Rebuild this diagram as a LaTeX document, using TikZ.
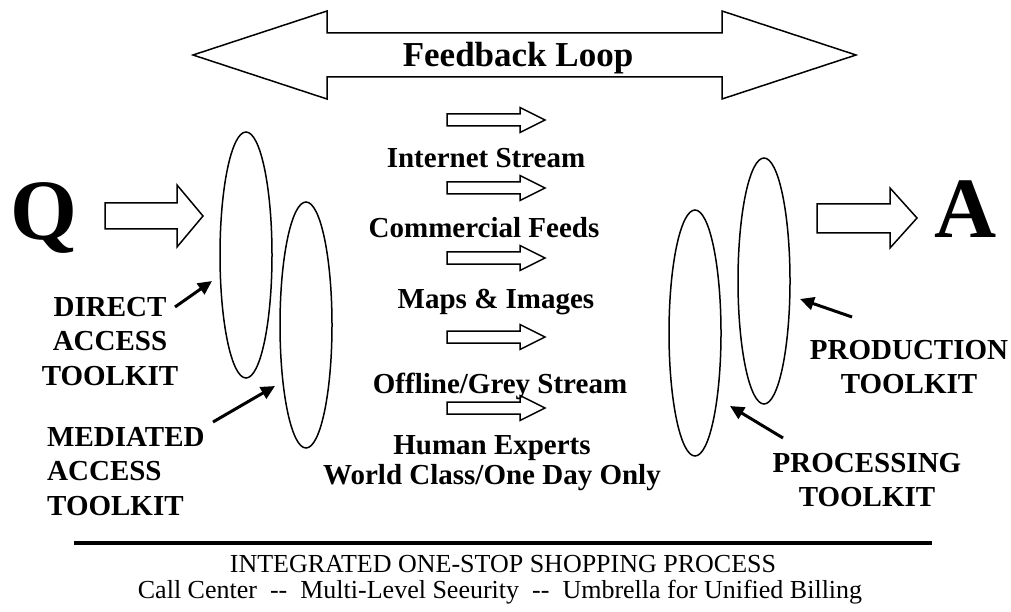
\documentclass[tikz,border=0pt]{standalone}
\usepackage{fontspec}
\setmainfont{Liberation Serif}
\usetikzlibrary{arrows.meta,shapes.geometric}

\tikzset{
    lbl/.style={font=\bfseries\fontsize{29}{34.5}\selectfont, align=center, inner sep=0pt},
    strm/.style={font=\bfseries\fontsize{29}{29}\selectfont, inner sep=0pt, anchor=base},
    big/.style={font=\bfseries\fontsize{86}{86}\selectfont, inner sep=0pt, anchor=base},
    plain/.style={font=\fontsize{26}{26}\selectfont, inner sep=0pt, anchor=base},
    ring/.style={draw, ellipse, line width=1.5pt, minimum width=52pt, minimum height=246pt, inner sep=0pt},
    pointer/.style={line width=3pt, -{Triangle[length=14pt,width=13pt]}},
    block/.style={draw, line width=1.5pt, line join=miter},
}

\begin{document}
\begin{tikzpicture}[x=1pt,y=-1pt]
    \useasboundingbox (0,0) rectangle (1011,612);

    % feedback loop
    \draw[block] (193,55) -- (327,11) -- (327,33) -- (722,33) -- (722,11) -- (856,55)
        -- (722,99) -- (722,77) -- (327,77) -- (327,99) -- cycle;
    \node[strm, font=\bfseries\fontsize{35}{35}\selectfont] (loop) at (518,67) {Feedback Loop};

    % question and answer
    \node[big] (q) at (44,240) {Q};
    \node[big] (a) at (966,238) {A};
    \draw[block] (105,203) -- (177,203) -- (177,185) -- (203,216) -- (177,247) -- (177,229) -- (105,229) -- cycle;
    \draw[block] (817,204) -- (890,204) -- (890,188) -- (917,218) -- (890,248) -- (890,233) -- (817,233) -- cycle;

    % toolkits
    \node[ring] (direct) at (246,255) {};
    \node[ring] (mediated) at (306,325) {};
    \node[ring] (processing) at (695,333) {};
    \node[ring] (production) at (764,281) {};

    % streams
    \foreach \y in {120,188,258,337,408}
        \draw[block] (447,\y-6) -- (520,\y-6) -- (520,\y-12.5) -- (545,\y) -- (520,\y+12.5)
            -- (520,\y+6) -- (447,\y+6) -- cycle;
    \node[strm] (internet) at (486,168) {Internet Stream};
    \node[strm] (commercial) at (484,238) {Commercial Feeds};
    \node[strm] (maps) at (496,308) {Maps \& Images};
    \node[strm] (offline) at (500,393) {Offline/Grey Stream};
    \node[strm, align=center, font=\bfseries\fontsize{29}{29.5}\selectfont] (human) at (492,484) {Human Experts\\World Class/One Day Only};

    % labels
    \node[lbl, anchor=north] (directlbl) at (110,297) {DIRECT\\ACCESS\\TOOLKIT};
    \node[lbl, anchor=north west, align=left] (mediatedlbl) at (47,427) {MEDIATED\\ACCESS\\TOOLKIT};
    \node[lbl, anchor=north] (productionlbl) at (909,340) {PRODUCTION\\TOOLKIT};
    \node[lbl, anchor=north] (processinglbl) at (867,453) {PROCESSING\\TOOLKIT};

    \coordinate (d0) at (175,307);
    \coordinate (d1) at (212,281);
    \coordinate (m0) at (213,422);
    \coordinate (m1) at (275,386);
    \coordinate (p0) at (852,317);
    \coordinate (p1) at (800,299);
    \coordinate (r0) at (783,438);
    \coordinate (r1) at (730,406);
    \draw[pointer] (d0) -- (d1);
    \draw[pointer] (m0) -- (m1);
    \draw[pointer] (p0) -- (p1);
    \draw[pointer] (r0) -- (r1);

    % bottom
    \coordinate (rule0) at (74,543);
    \coordinate (rule1) at (932,543);
    \draw[line width=3.5pt] (rule0) -- (rule1);
    \node[plain] (process) at (503,572) {INTEGRATED ONE-STOP SHOPPING PROCESS};
    \node[plain] (services) at (500,598) {Call Center\ \ -{}-\ \ Multi-Level Seeurity\ \ -{}-\ \ Umbrella for Unified Billing};

\end{tikzpicture}
\end{document}
